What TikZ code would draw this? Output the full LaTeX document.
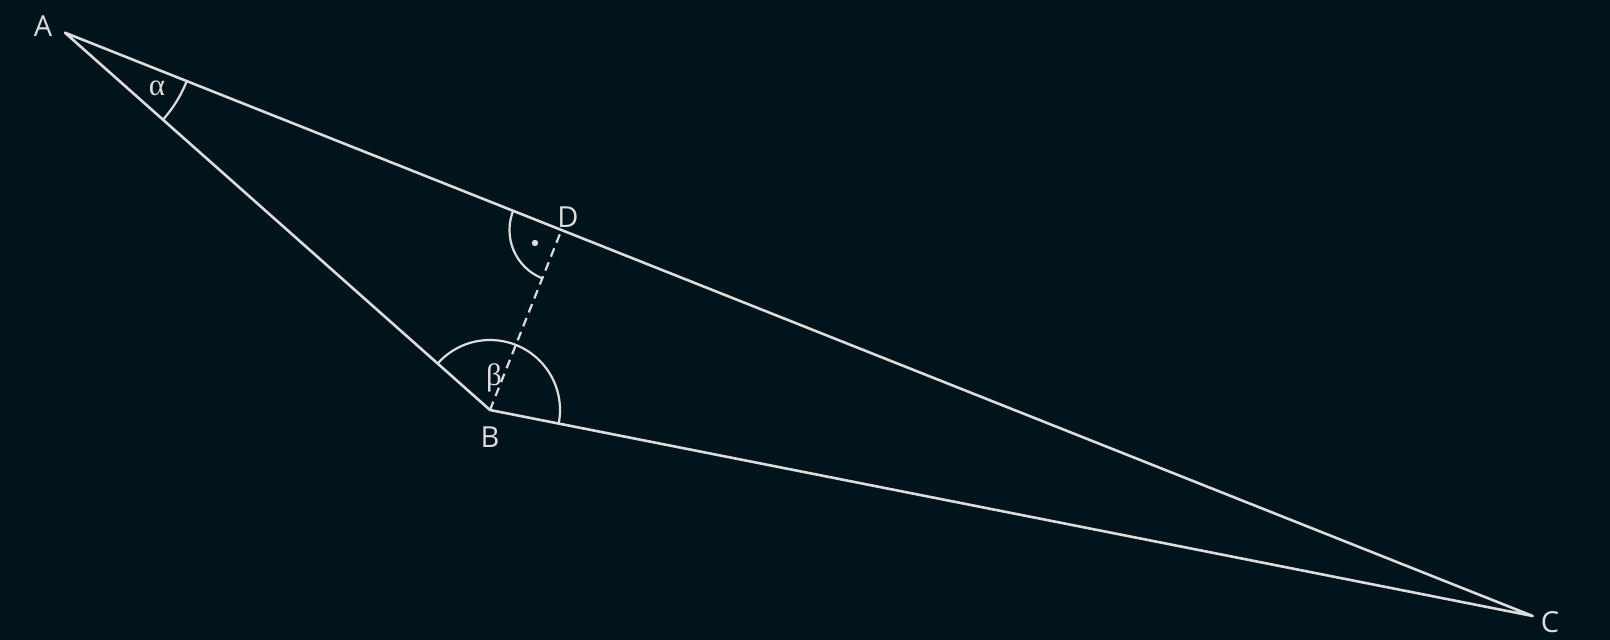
\documentclass[tikz,border=0pt]{standalone}
\usepackage{fontspec}
\setmainfont{Open Sans}
\newfontfamily\griechfont{Liberation Serif}
\usetikzlibrary{calc}
\definecolor{nacht}{HTML}{02141B}
\definecolor{kreide}{HTML}{DCDCDC}
\tikzset{
  seite/.style={draw=kreide, line width=2.6pt},
  winkel/.style={draw=kreide, line width=2.2pt},
  punkt/.style={text=kreide, font=\fontsize{29}{30}\selectfont},
  griech/.style={text=kreide, font=\griechfont\fontsize{31}{32}\selectfont}
}
\begin{document}
\begin{tikzpicture}[x=1pt, y=-1pt]
\fill[nacht] (0,0) rectangle (1610,640);
\coordinate (A) at (65,32.7);
\coordinate (B) at (490,410);
\coordinate (C) at (1532.7,616);
\coordinate (D) at ($(A)!(B)!(C)$); % Fusspunkt des Lots von B auf AC
\begin{scope}
\clip (A) -- (B) -- (C) -- cycle; % nur der Teil des Kreises im Dreieck bleibt stehen
\draw[winkel] (A) circle (131pt);
\draw[winkel] (B) circle (70pt);
\end{scope}
\begin{scope}
\clip (A) -- (D) -- (B) -- cycle;
\draw[winkel] (D) circle (52pt);
\end{scope}
\draw[seite, line join=round] (A) -- (B) -- (C) -- cycle;
\draw[winkel, dash pattern=on 9pt off 6pt] (B) -- (D);
\fill[kreide] (535,243) circle (3.2pt);
\node[punkt] (lA) at (43,26) {A};
\node[punkt] (lB) at (490,437) {B};
\node[punkt] (lC) at (1550,622) {C};
\node[punkt] (lD) at (568,217) {D};
\node[griech] (alpha) at (157,88) {α};
\node[griech] (beta) at (494,378) {β};
\end{tikzpicture}
\end{document}
